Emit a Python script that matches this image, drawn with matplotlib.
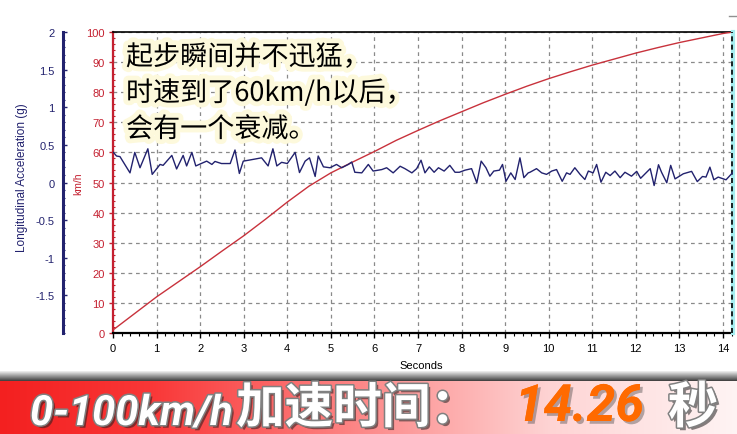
import numpy as np
import matplotlib
matplotlib.use("Agg")
import matplotlib.pyplot as plt
import matplotlib.patheffects as pe
from matplotlib.ticker import MultipleLocator
from matplotlib.lines import Line2D

# ---------------- data ----------------
speed_t = [0.0, 0.5, 1.0, 1.5, 2.0, 2.5, 3.0, 3.5, 4.0, 4.5, 5.0, 5.5, 6.0, 6.5,
           7.0, 7.5, 8.0, 8.5, 9.0, 9.5, 10.0, 10.5, 11.0, 11.5, 12.0, 12.5,
           13.0, 13.5, 14.0, 14.23]
speed_kmh = [1.0, 6.5, 12.0, 17.0, 22.0, 27.2, 32.3, 37.8, 43.5, 48.8, 53.2, 56.8,
             60.3, 64.0, 67.3, 70.5, 73.5, 76.5, 79.3, 82.0, 84.5, 86.8, 89.0,
             91.0, 93.0, 94.8, 96.5, 98.0, 99.5, 100.0]

acc_t = [0.01, 0.08, 0.16, 0.39, 0.50, 0.62, 0.80, 0.90, 1.08, 1.15, 1.35, 1.46,
         1.61, 1.69, 1.81, 1.90, 2.04, 2.15, 2.27, 2.34, 2.49, 2.69, 2.80, 2.90,
         2.99, 3.11, 3.30, 3.41, 3.56, 3.67, 3.76, 3.87, 4.00, 4.18, 4.28, 4.41,
         4.51, 4.64, 4.71, 4.83, 4.98, 5.13, 5.25, 5.40, 5.48, 5.55, 5.71, 5.86,
         5.97, 6.17, 6.28, 6.43, 6.59, 6.70, 6.86, 6.97, 7.07, 7.16, 7.26, 7.37,
         7.47, 7.60, 7.73, 7.85, 7.95, 8.08, 8.23, 8.35, 8.45, 8.56, 8.65, 8.74,
         8.87, 8.94, 9.02, 9.13, 9.23, 9.34, 9.43, 9.53, 9.57, 9.72, 9.84, 9.95,
         10.07, 10.18, 10.31, 10.41, 10.49, 10.60, 10.72, 10.83, 10.91, 11.02,
         11.10, 11.20, 11.31, 11.41, 11.52, 11.64, 11.75, 11.90, 12.02, 12.11,
         12.33, 12.42, 12.52, 12.59, 12.71, 12.80, 12.90, 13.09, 13.28, 13.41,
         13.53, 13.61, 13.70, 13.79, 13.89, 14.07, 14.23]
acc_g = [0.40, 0.352, 0.344, 0.128, 0.40, 0.196, 0.448, 0.108, 0.24, 0.228, 0.36,
         0.18, 0.36, 0.22, 0.40, 0.22, 0.256, 0.284, 0.24, 0.28, 0.252, 0.252,
         0.432, 0.12, 0.284, 0.296, 0.316, 0.328, 0.22, 0.448, 0.22, 0.268, 0.252,
         0.40, 0.132, 0.284, 0.328, 0.08, 0.352, 0.208, 0.196, 0.24, 0.196, 0.24,
         0.272, 0.136, 0.128, 0.24, 0.152, 0.172, 0.196, 0.128, 0.216, 0.184,
         0.128, 0.184, 0.296, 0.128, 0.208, 0.136, 0.196, 0.152, 0.228, 0.136,
         0.136, 0.164, 0.184, -0.004, 0.284, 0.196, 0.084, 0.152, 0.164, 0.24,
         0.016, 0.128, 0.04, 0.328, 0.064, 0.128, 0.136, 0.184, 0.128, 0.108,
         0.152, 0.172, 0.016, 0.128, 0.108, 0.196, 0.108, 0.04, 0.152, 0.128,
         0.24, 0.004, 0.136, 0.092, 0.152, 0.064, 0.136, 0.084, 0.148, 0.056,
         0.184, -0.04, 0.236, 0.136, -0.004, 0.228, 0.048, 0.116, 0.148, 0.012,
         0.08, 0.072, 0.204, 0.036, 0.072, 0.036, 0.136]

x_ticks = list(range(0, 15))
speed_ticks = list(range(0, 101, 10))
acc_ticks = [-1.5, -1, -0.5, 0, 0.5, 1, 1.5, 2]
acc_tick_labels = ["-1.5", "-1", "-0.5", "0", "0.5", "1", "1.5", "2"]

note_lines = ["起步瞬间并不迅猛，", "时速到了60km/h以后，", "会有一个衰减。"]
banner_parts = ["0-100km/h", "加速时间：", "14.26", "秒"]

# ---------------- style ----------------
plt.rcParams['font.family'] = ['Liberation Sans', 'DejaVu Sans']
W_PX, H_PX = 737, 435
fig = plt.figure(figsize=(7.37, 4.35), dpi=100)

def fx(x):
    return x / W_PX

def fy(y):
    return (H_PX - y) / H_PX

RED = '#c42030'
NAVY = '#22226e'
L, T, R, B = 113, 33, 733, 334
rect = [fx(L), fy(B), fx(R) - fx(L), fy(T) - fy(B)]
XMAX = 14.23

ax = fig.add_axes(rect)
ax.set_xlim(0, XMAX)
ax.set_ylim(0, 100)
ax.plot(speed_t, speed_kmh, color='#c8323c', lw=1.0, zorder=3)
ax.set_xticks(x_ticks)
ax.set_yticks(speed_ticks)
ax.xaxis.set_minor_locator(MultipleLocator(0.2))
ax.yaxis.set_minor_locator(MultipleLocator(2))
ax.grid(True, which='major', color='#8a8a8a', linestyle=(0, (3, 3)), lw=0.9)
ax.set_axisbelow(True)
ax.tick_params(axis='x', which='major', length=3.5, width=1, direction='out',
               labelsize=8, pad=4, colors='black')
ax.tick_params(axis='x', which='minor', length=2, width=0.8, direction='out')
ax.tick_params(axis='y', which='major', length=3, width=1, direction='out',
               labelsize=8, pad=3, colors=RED)
ax.tick_params(axis='y', which='minor', length=1.5, width=0.8, direction='in',
               colors=RED)
ax.spines['left'].set_color(RED)
ax.spines['left'].set_linewidth(1.6)
ax.spines['bottom'].set_color('black')
ax.spines['bottom'].set_linewidth(1.6)
ax.spines['top'].set_color('black')
ax.spines['top'].set_linewidth(1.2)
ax.spines['right'].set_visible(False)
# cursor line at right edge
ax.axvline(XMAX, color='#a6eef0', lw=3, clip_on=False, zorder=4)
ax.axvline(XMAX - 0.03, color='black', lw=1.2, linestyle=(0, (3, 2)),
           clip_on=False, zorder=5)

ax2 = fig.add_axes(rect)
ax2.set_xlim(0, XMAX)
ax2.set_ylim(-2, 2)
ax2.patch.set_visible(False)
ax2.plot(acc_t, acc_g, color=NAVY, lw=1.0, zorder=3)
for s in ['top', 'right', 'bottom']:
    ax2.spines[s].set_visible(False)
ax2.spines['left'].set_position(('outward', 36))
ax2.spines['left'].set_color(NAVY)
ax2.spines['left'].set_linewidth(2.2)
ax2.set_xticks([])
ax2.set_yticks(acc_ticks)
ax2.set_yticklabels(acc_tick_labels)
ax2.yaxis.set_minor_locator(MultipleLocator(0.1))
ax2.tick_params(axis='y', which='major', length=3, width=1, direction='in',
                labelsize=8, pad=6, colors=NAVY)
ax2.tick_params(axis='y', which='minor', length=1.5, width=0.8, direction='in',
                colors=NAVY)

fig.text(fx(22), fy(178), 'Longitudinal Acceleration (g)', rotation=90,
         ha='center', va='center', fontsize=8.5, color=NAVY)
fig.text(fx(78), fy(184), 'km/h', rotation=90, ha='center', va='center',
         fontsize=7.5, color=RED)
fig.text(fx(421), fy(366), 'Seconds', ha='center', va='center', fontsize=8,
         color='black')

fig.lines.append(Line2D([fx(729), fx(737)], [fy(17), fy(17)],
                        transform=fig.transFigure, color='#909090', lw=1))

# annotation
halo = [pe.Stroke(linewidth=7, foreground='#fdf9dc'), pe.Normal()]
for line, yb in zip(note_lines, [66, 102, 138]):
    fig.text(fx(126), fy(yb), line, ha='left', va='baseline', fontsize=19.5,
             family=['Noto Sans CJK SC', 'DejaVu Sans'], color='black',
             path_effects=halo, zorder=10)

# ---------------- banner ----------------
top_banner = 372
bax = fig.add_axes([0, 0, 1, fy(top_banner)])
bax.set_axis_off()
hb = H_PX - top_banner
img = np.ones((hb, W_PX, 3))
stops_x = [0, 150, 300, 420, 550, 737]
stops_c = np.array([[243, 32, 32], [249, 55, 55], [252, 112, 112],
                    [253, 160, 160], [254, 212, 212], [255, 244, 244]]) / 255.0
xs = np.arange(W_PX)
grad = np.stack([np.interp(xs, stops_x, stops_c[:, k]) for k in range(3)], axis=1)
shadow_h = 10
for r in range(hb):
    if r < shadow_h:
        v = 0.92 - 0.65 * (r / (shadow_h - 1))
        img[r, :, :] = v
    else:
        img[r, :, :] = grad
bax.imshow(img, extent=[0, W_PX, 0, hb], aspect='auto', interpolation='bilinear')
bax.set_xlim(0, W_PX)
bax.set_ylim(0, hb)

white_fx = [pe.withSimplePatchShadow(offset=(2, -2), shadow_rgbFace='#202020', alpha=0.55),
            pe.Stroke(linewidth=2.2, foreground='#808080'), pe.Normal()]
orange_fx = [pe.withSimplePatchShadow(offset=(2, -2), shadow_rgbFace='#404040', alpha=0.4),
             pe.Normal()]
lat_y = fy(426)
cjk_y = fy(424)
fig.text(fx(30), lat_y, banner_parts[0], ha='left', va='baseline', fontsize=30,
         family=['Roboto', 'DejaVu Sans'], weight='bold', style='italic',
         color='white', path_effects=white_fx)
fig.text(fx(236), cjk_y, banner_parts[1], ha='left', va='baseline', fontsize=35,
         family=['Noto Sans CJK SC', 'DejaVu Sans'], weight='bold',
         color='white', path_effects=white_fx)
fig.text(fx(515), fy(422), banner_parts[2], ha='left', va='baseline', fontsize=37,
         family=['Roboto', 'DejaVu Sans'], weight='bold', style='italic',
         color='#ff6a00', path_effects=orange_fx)
fig.text(fx(668), cjk_y, banner_parts[3], ha='left', va='baseline', fontsize=36,
         family=['Noto Sans CJK SC', 'DejaVu Sans'], weight='bold',
         color='white', path_effects=white_fx)

fig.savefig('out.png', dpi=100)
